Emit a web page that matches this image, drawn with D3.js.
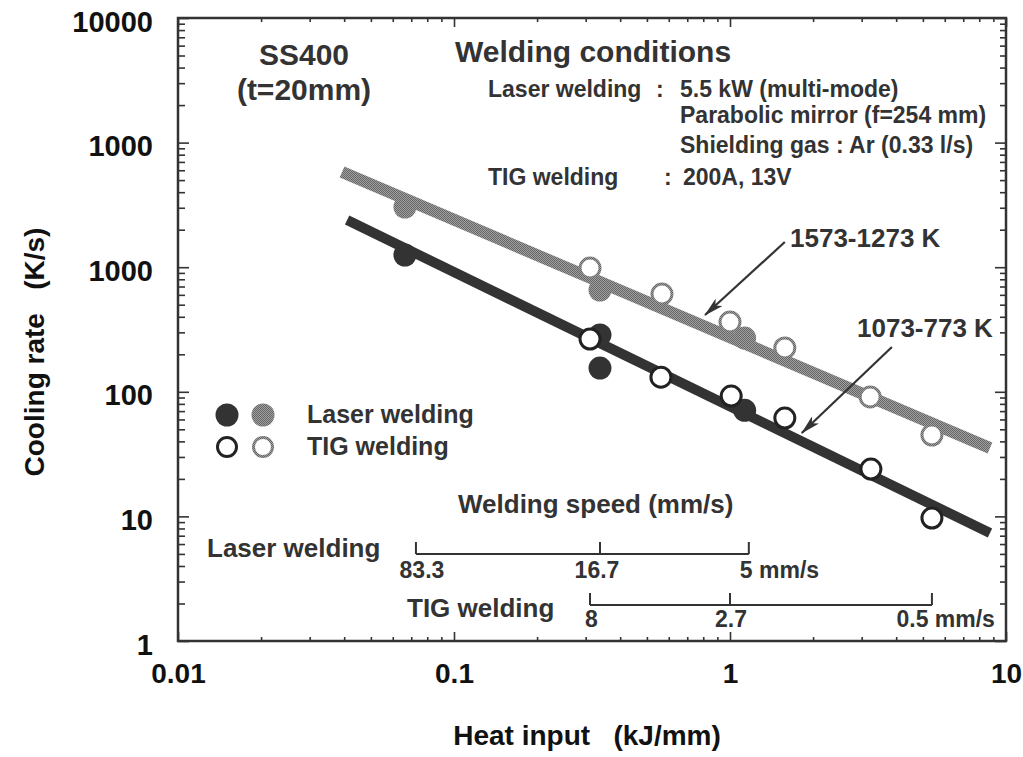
<!DOCTYPE html>
<meta charset="utf-8">
<script src="https://d3js.org/d3.v7.min.js"></script>
<style>
  body { margin: 0; background: #fff; }
  text { font-family: "Liberation Sans", Arial, Helvetica, sans-serif; font-weight: bold; }
</style>
<div id="chart"></div>
<script>

// Datos (heat input kJ/mm, cooling rate K/s)
var laserLow  = [[0.0664, 1253], [0.338, 286], [0.338, 155], [1.13, 71]];
var laserHigh = [[0.0664, 3040], [0.338, 656], [1.13, 270]];
var tigLow    = [[0.311, 265], [0.562, 131], [1.01, 92.5], [1.58, 61.6], [3.24, 24], [5.39, 9.7]];
var tigHigh   = [[0.311, 985], [0.567, 609], [1.0, 363], [1.58, 225], [3.22, 91], [5.39, 45]];

// Rectas de ajuste
var fitHigh = [[0.0393, 5800], [8.75, 35.4]];
var fitLow  = [[0.041, 2390], [8.75, 7.36]];

// Ejes
var xTicks = [0.01, 0.1, 1, 10];
var xTickLabels = ["0.01", "0.1", "1", "10"];
var yTicks = [1, 10, 100, 1000, 10000, 100000];
var yTickLabels = ["1", "10", "100", "1000", "1000", "10000"];

// Escalas de velocidad de soldadura
var laserSpeeds = ["83.3", "16.7", "5 mm/s"];
var laserSpeedHeat = [0.0728, 0.338, 1.17];
var tigSpeeds = ["8", "2.7", "0.5 mm/s"];
var tigSpeedHeat = [0.311, 1.0, 5.39];

// Flechas (desde, hasta)
var arrowHigh = [[1.58, 1592], [0.812, 413]];
var arrowLow  = [[3.86, 229], [1.82, 46.7]];

var W = 1023, H = 757;
var pLeft = 178, pRight = 1006, pTop = 18, pBottom = 641;

var svg = d3.select("#chart").append("svg")
  .attr("width", W).attr("height", H);

var defs = svg.append("defs");
var pat = defs.append("pattern").attr("id", "halftone")
  .attr("width", 2).attr("height", 2).attr("patternUnits", "userSpaceOnUse");
pat.append("rect").attr("width", 2).attr("height", 2).attr("fill", "#a0a0a0");
pat.append("rect").attr("width", 1).attr("height", 1).attr("fill", "#666");
pat.append("rect").attr("x", 1).attr("y", 1).attr("width", 1).attr("height", 1).attr("fill", "#666");

defs.append("marker").attr("id", "arrow")
  .attr("viewBox", "0 0 20 10").attr("refX", 19).attr("refY", 5)
  .attr("markerWidth", 20).attr("markerHeight", 10)
  .attr("markerUnits", "userSpaceOnUse").attr("orient", "auto")
  .append("path").attr("d", "M0,0 L20,5 L0,10 L5,5 Z").attr("fill", "#333");

var x = d3.scaleLog().domain([0.01, 10]).range([pLeft, pRight]);
var y = d3.scaleLog().domain([1, 100000]).range([pBottom, pTop]);

var minorX = x.ticks().filter(function(d) { return xTicks.indexOf(d) < 0; });
var minorY = y.ticks().filter(function(d) { return yTicks.indexOf(d) < 0; });

function axisStyle(g) {
  g.select(".domain").remove();
  g.selectAll("line").attr("stroke", "#333").attr("stroke-width", 1.6);
}

// Eje inferior con etiquetas
svg.append("g").attr("transform", "translate(0," + pBottom + ")")
  .call(d3.axisBottom(x).tickValues(xTicks).tickSize(-9).tickPadding(22)
    .tickFormat(function(d, i) { return xTickLabels[i]; }))
  .call(axisStyle)
  .selectAll("text").attr("fill", "#111").style("font-size", "28px");
svg.append("g").attr("transform", "translate(0," + pBottom + ")")
  .call(d3.axisBottom(x).tickValues(minorX).tickSize(-4).tickFormat(""))
  .call(axisStyle);
// Eje superior
svg.append("g").attr("transform", "translate(0," + pTop + ")")
  .call(d3.axisTop(x).tickValues(xTicks).tickSize(-9).tickFormat(""))
  .call(axisStyle);
svg.append("g").attr("transform", "translate(0," + pTop + ")")
  .call(d3.axisTop(x).tickValues(minorX).tickSize(-4).tickFormat(""))
  .call(axisStyle);

// Eje izquierdo con etiquetas
svg.append("g").attr("transform", "translate(" + pLeft + ",0)")
  .call(d3.axisLeft(y).tickValues(yTicks).tickSize(-11).tickPadding(25)
    .tickFormat(function(d, i) { return yTickLabels[i]; }))
  .call(axisStyle)
  .selectAll("text").attr("fill", "#111").attr("dy", "0.45em").style("font-size", "29px");
svg.append("g").attr("transform", "translate(" + pLeft + ",0)")
  .call(d3.axisLeft(y).tickValues(minorY).tickSize(-7).tickFormat(""))
  .call(axisStyle);
// Eje derecho
svg.append("g").attr("transform", "translate(" + pRight + ",0)")
  .call(d3.axisRight(y).tickValues(yTicks).tickSize(-11).tickFormat(""))
  .call(axisStyle);
svg.append("g").attr("transform", "translate(" + pRight + ",0)")
  .call(d3.axisRight(y).tickValues(minorY).tickSize(-6).tickFormat(""))
  .call(axisStyle);

// Marco
svg.append("rect")
  .attr("x", pLeft).attr("y", pTop)
  .attr("width", pRight - pLeft).attr("height", pBottom - pTop)
  .attr("fill", "none").attr("stroke", "#333").attr("stroke-width", 2.5);

// Titulos de ejes
svg.append("text").attr("x", 587).attr("y", 745).attr("text-anchor", "middle")
  .attr("fill", "#111").style("font-size", "28px")
  .text("Heat input\u00a0\u00a0\u00a0(kJ/mm)");
svg.append("text").attr("transform", "translate(44,352) rotate(-90)")
  .attr("text-anchor", "middle").attr("fill", "#111").style("font-size", "28px")
  .text("Cooling rate\u00a0\u00a0\u00a0(K/s)");

// Rectas
var line = d3.line().x(function(d) { return x(d[0]); }).y(function(d) { return y(d[1]); });
svg.append("path").datum(fitHigh).attr("d", line)
  .attr("stroke", "url(#halftone)").attr("stroke-width", 12).attr("fill", "none");
svg.append("path").datum(fitLow).attr("d", line)
  .attr("stroke", "#333").attr("stroke-width", 10).attr("fill", "none");

// Puntos
function dots(data, fill, stroke, r) {
  svg.append("g").selectAll("circle").data(data).enter().append("circle")
    .attr("cx", function(d) { return x(d[0]); })
    .attr("cy", function(d) { return y(d[1]); })
    .attr("r", r)
    .attr("fill", fill)
    .attr("stroke", stroke)
    .attr("stroke-width", stroke === "none" ? 0 : 3);
}
dots(laserHigh, "url(#halftone)", "none", 11.5);
dots(laserLow, "#333", "none", 11.5);
dots(tigHigh, "#fff", "url(#halftone)", 10);
dots(tigLow, "#fff", "#222", 10);

// Leyenda
var legend = svg.append("g");
legend.append("circle").attr("cx", 227).attr("cy", 415).attr("r", 11.5).attr("fill", "#333");
legend.append("circle").attr("cx", 263).attr("cy", 415).attr("r", 11.5).attr("fill", "url(#halftone)");
legend.append("circle").attr("cx", 227).attr("cy", 447).attr("r", 9.5).attr("fill", "#fff").attr("stroke", "#222").attr("stroke-width", 3);
legend.append("circle").attr("cx", 263).attr("cy", 447).attr("r", 9.5).attr("fill", "#fff").attr("stroke", "url(#halftone)").attr("stroke-width", 3);
legend.append("text").attr("x", 307).attr("y", 423).attr("fill", "#333").style("font-size", "25px").text("Laser welding");
legend.append("text").attr("x", 307).attr("y", 455).attr("fill", "#333").style("font-size", "25px").text("TIG welding");

// Textos de condiciones
function label(tx, ty, size, s, anchor) {
  return svg.append("text").attr("x", tx).attr("y", ty)
    .attr("text-anchor", anchor || "start")
    .attr("fill", "#333").style("font-size", size + "px").text(s);
}
label(304, 65, 30, "SS400", "middle");
label(304, 100, 30, "(t=20mm)", "middle");
label(455, 62, 30, "Welding conditions");
label(488, 97, 23, "Laser welding");
label(656, 97, 23, ":");
label(680, 97, 23, "5.5 kW (multi-mode)");
label(680, 123, 23, "Parabolic mirror (f=254 mm)");
label(680, 153, 23, "Shielding gas : Ar (0.33 l/s)");
label(488, 185, 23, "TIG welding");
label(664, 185, 23, ":");
label(683, 185, 23, "200A, 13V");

label(790, 247, 26, "1573-1273 K");
label(857, 337, 26, "1073-773 K");

// Flechas
[arrowHigh, arrowLow].forEach(function(a) {
  svg.append("line")
    .attr("x1", x(a[0][0])).attr("y1", y(a[0][1]))
    .attr("x2", x(a[1][0])).attr("y2", y(a[1][1]))
    .attr("stroke", "#333").attr("stroke-width", 2.2)
    .attr("marker-end", "url(#arrow)");
});

// Escalas de velocidad
label(458, 513, 26, "Welding speed (mm/s)");
label(207, 557, 26, "Laser welding");
label(407, 617, 26, "TIG welding");

function speedBar(heat, labels, by, ly, dxs, anchors) {
  var g = svg.append("g");
  g.append("line")
    .attr("x1", x(heat[0])).attr("x2", x(heat[heat.length - 1]))
    .attr("y1", by).attr("y2", by)
    .attr("stroke", "#333").attr("stroke-width", 2);
  g.selectAll(".tk").data(heat).enter().append("line")
    .attr("x1", function(d) { return x(d); }).attr("x2", function(d) { return x(d); })
    .attr("y1", by).attr("y2", by - 12)
    .attr("stroke", "#333").attr("stroke-width", 2);
  g.selectAll("text").data(heat).enter().append("text")
    .attr("x", function(d, i) { return x(d) + dxs[i]; })
    .attr("y", ly)
    .attr("text-anchor", function(d, i) { return anchors[i]; })
    .attr("fill", "#333").style("font-size", "23px")
    .text(function(d, i) { return labels[i]; });
}
speedBar(laserSpeedHeat, laserSpeeds, 554, 578, [6, -3, -9], ["middle", "middle", "start"]);
speedBar(tigSpeedHeat, tigSpeeds, 605, 627, [-5, 1, 63], ["start", "middle", "end"]);

</script>
